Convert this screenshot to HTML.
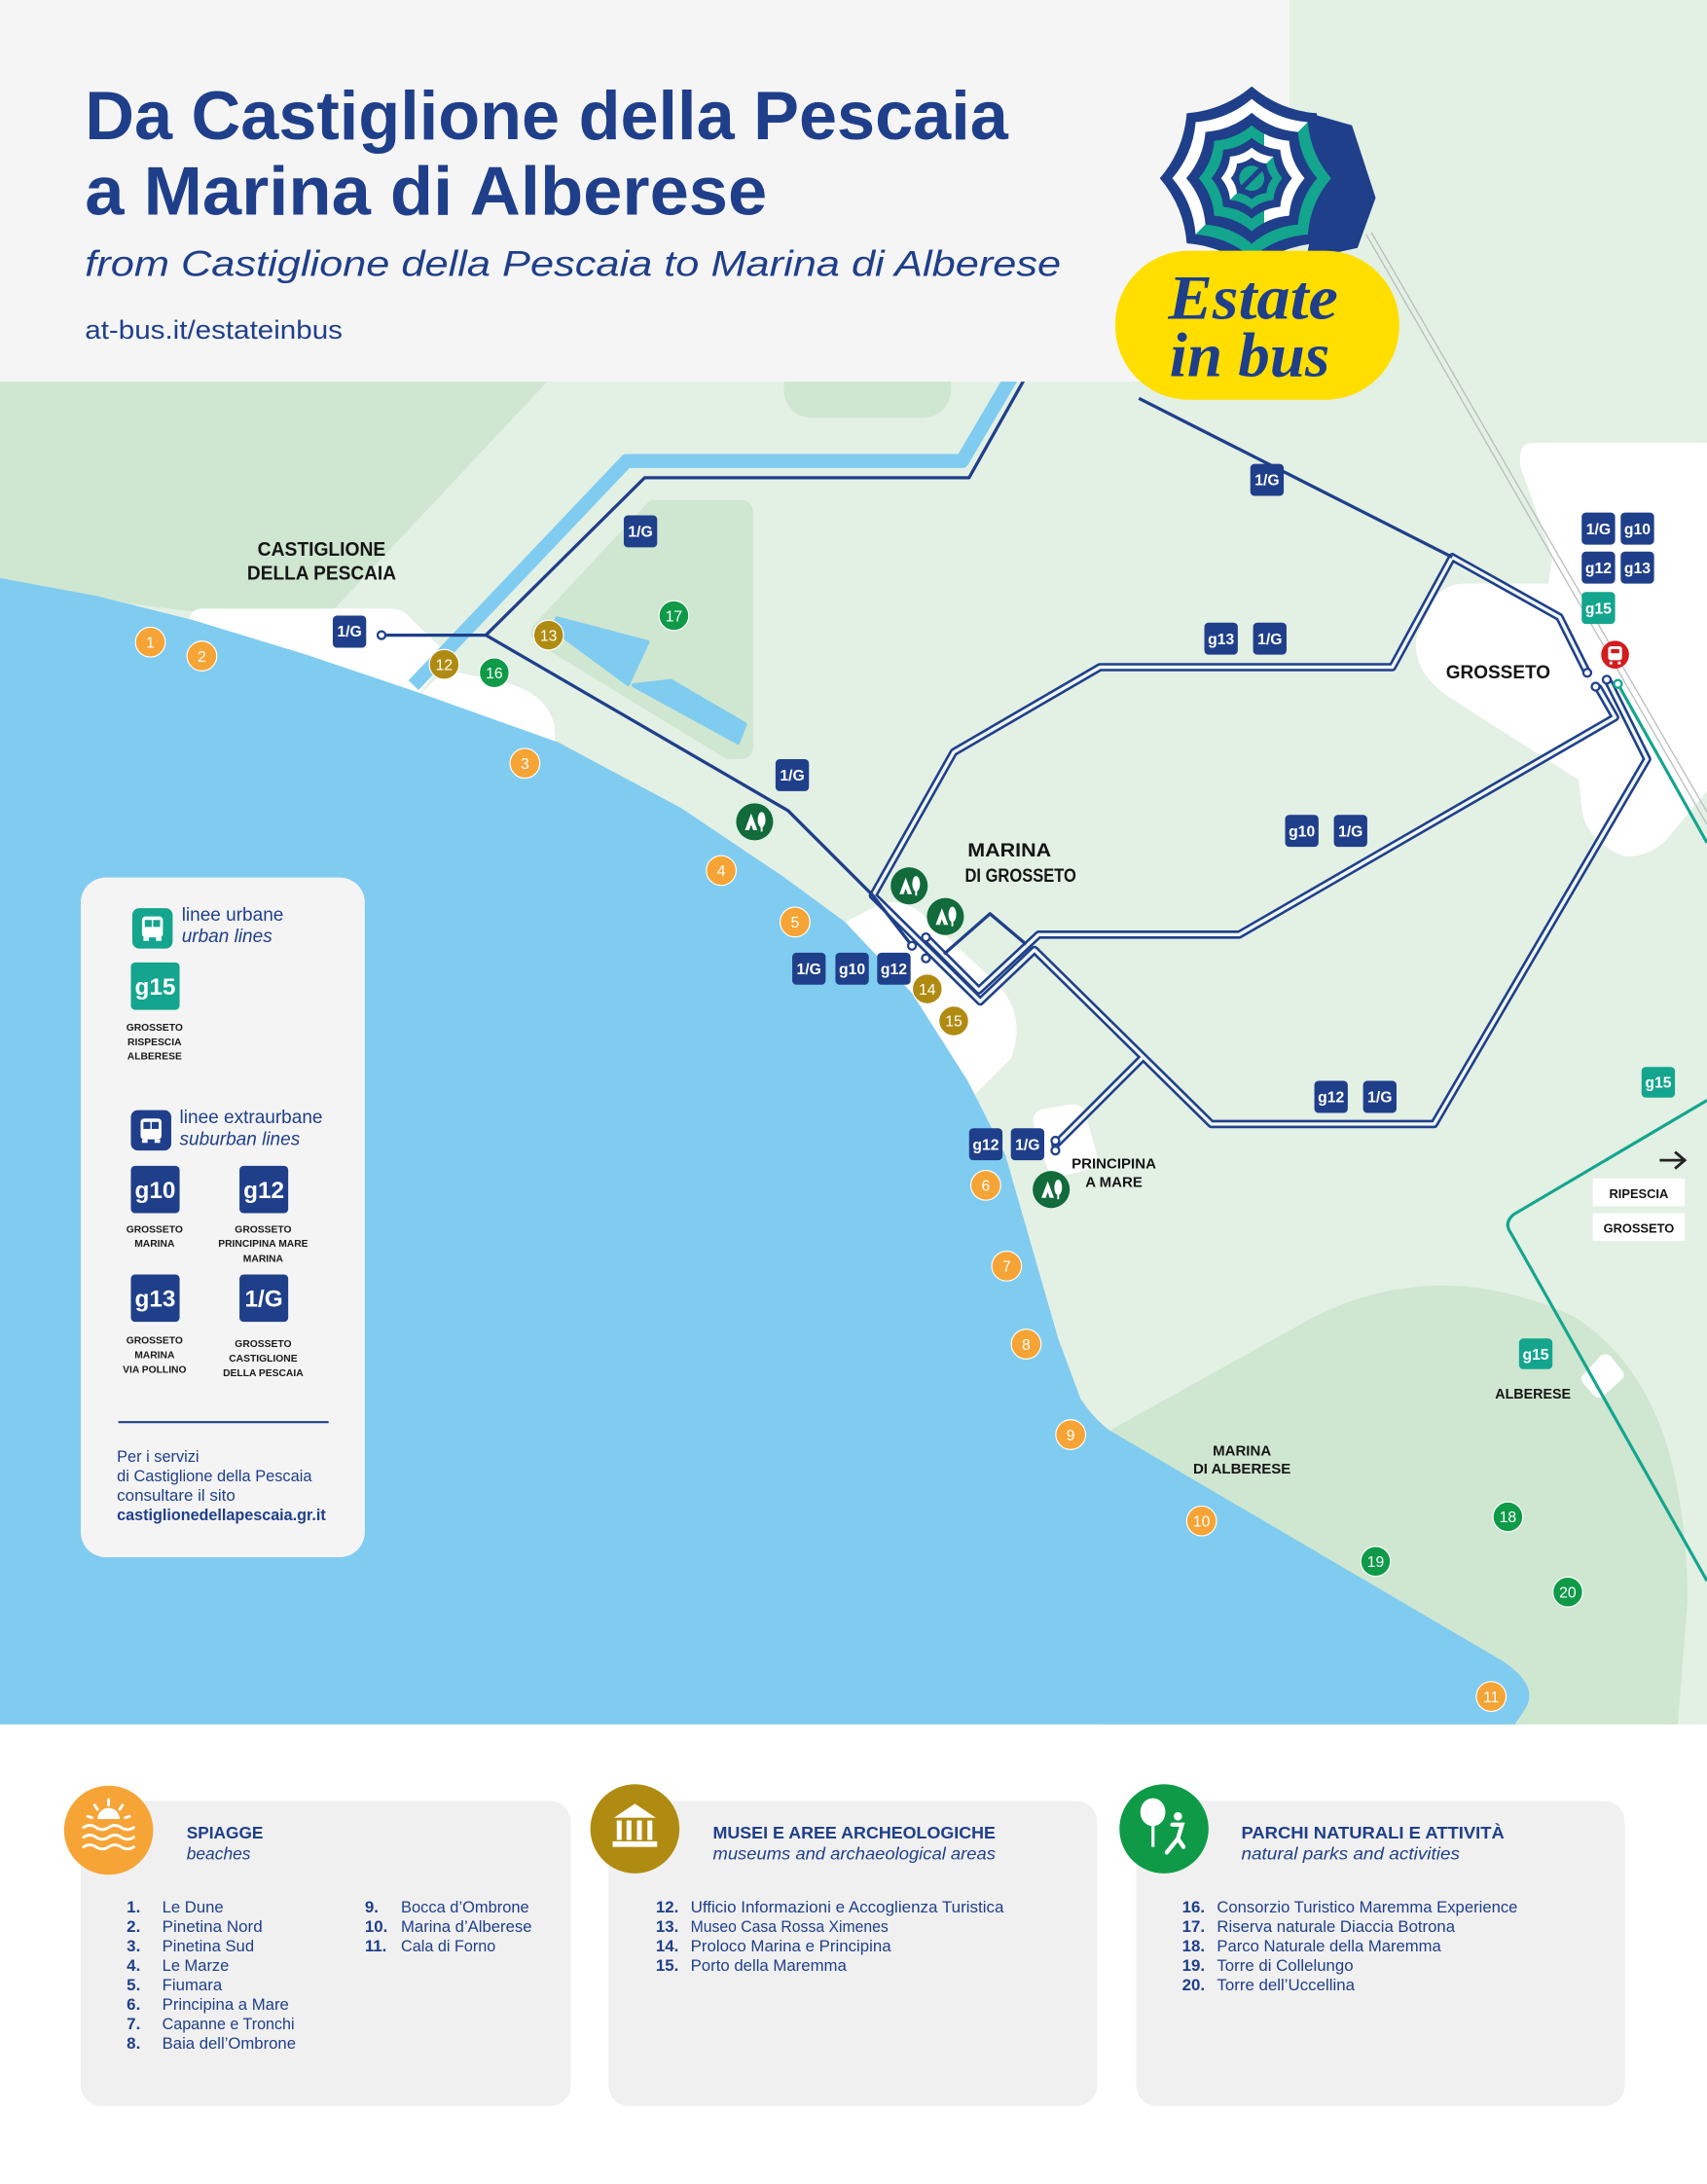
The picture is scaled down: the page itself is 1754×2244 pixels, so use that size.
<!DOCTYPE html>
<html><head><meta charset="utf-8">
<style>
html,body{margin:0;padding:0;background:#fff;}
svg{display:block;}
text{font-family:"Liberation Sans",Arial,sans-serif;}
.b{font-weight:bold;}
.lab{font-weight:bold;fill:#fff;font-size:11px;text-anchor:middle;}
.num{fill:#fff;font-size:11px;text-anchor:middle;}
.pl{font-weight:bold;fill:#151515;text-anchor:middle;}
.cap{font-weight:bold;fill:#1a1a1a;font-size:7.2px;text-anchor:middle;}
.li{fill:#1f3f8a;font-size:11.8px;}
.ln{fill:#1f3f8a;font-size:11.8px;font-weight:bold;}
.serif{font-family:"Liberation Serif","DejaVu Serif",serif;font-weight:bold;font-style:italic;}
</style></head><body>
<svg xmlns="http://www.w3.org/2000/svg" width="1754" height="2244" viewBox="0 0 1226 1568" preserveAspectRatio="none">
<defs>
<linearGradient id="gB" x1="0" y1="0" x2="1" y2="1"><stop offset="0.5" stop-color="#ffffff"/><stop offset="0.5" stop-color="#14a58e"/></linearGradient>
<linearGradient id="gD" x1="0" y1="0" x2="1" y2="0"><stop offset="0.62" stop-color="#14a58e"/><stop offset="0.62" stop-color="#ffffff"/></linearGradient>
</defs>
<rect width="1226" height="1568" fill="#fff"/>
<!-- MAP BACKGROUND -->
<rect x="0" y="0" width="1226" height="1238" fill="#e3f0e4"/>
<path d="M0,274 L393,274 L228,450 L0,422 Z" fill="#cfe6d1"/>
<rect x="563" y="250" width="120" height="50" rx="20" fill="#cfe6d1"/>
<path d="M467,359 L531,359 Q541,359 541,369 L541,535 Q541,545 531,545 L522,545 L386,462 Q378,456 384,448 Z" fill="#cfe6d1"/>
<path d="M790,1031 L941,947 Q1031,900 1130,945 Q1178,975 1198,1040 Q1212,1090 1212,1150 L1205,1238 L790,1238 Z" fill="#cfe6d1"/>
<!-- white town areas -->
<path d="M136,446 Q136,437 146,437 L280,437 Q290,437 296,445 L322,470 L300,500 L130,452 Z" fill="#fff"/>
<path d="M303,497 L316,485 Q321,481 330,483 L360,489 Q392,497 398,520 L400,548 L300,512 Z" fill="#fff"/>
<path d="M596,668 L628,651 Q646,643 662,656 L716,706 Q738,730 726,760 L700,786 L650,740 Z" fill="#fff"/>
<path d="M742,806 Q741,798 750,796 L768,793 Q776,792 779,798 L787,826 Q790,836 781,840 L764,844 Q754,845 752,838 Z" fill="#fff"/>
<path d="M1100,318 L1226,318 L1226,568 L1195,605 Q1175,620 1160,612 Q1138,600 1136,580 L1134,560 L1040,500 Q1012,480 1018,455 L1030,430 Q1038,419 1052,419 L1112,419 L1115,400 L1092,335 Q1090,318 1100,318 Z" fill="#fff"/>
<path d="M1150,973 Q1154,971 1157,974 L1165,984 Q1168,988 1164,991 L1152,1002 Q1148,1005 1145,1002 L1137,993 Q1134,989 1138,986 Z" fill="#fff"/>
<!-- SEA -->
<path d="M0,415 L70,428 L138,445 L220,470 L300,497 L401,533 L489,580 L562,629 L607,662 L655,713 L695,776 L722,829 L739,888 L760,961 L776,1004 Q785,1018 797,1027 L1080,1193 Q1105,1210 1096,1226 L1088,1238 L0,1238 Z" fill="#80ccf0"/>
<!-- canal & lakes -->
<path d="M297,492 L450,331 L691,331 L727,270" fill="none" stroke="#80ccf0" stroke-width="10" stroke-linejoin="round"/>
<path d="M400,444 L465,461 L451,491 L398,452 Z" fill="#80ccf0" stroke="#80ccf0" stroke-width="3" stroke-linejoin="round"/>
<path d="M455,492 L482,489 L535,520 L530,533 Z" fill="#80ccf0" stroke="#80ccf0" stroke-width="3" stroke-linejoin="round"/>
<!-- railway -->
<path d="M981,168 L1226,592" stroke="#b9bdbd" stroke-width="0.9" fill="none"/>
<path d="M985,167 L1226,583" stroke="#b9bdbd" stroke-width="0.9" fill="none"/>
<!-- teal lines -->
<g fill="none" stroke="#14a58e" stroke-width="2.2" stroke-linejoin="round">
<path d="M1162,491 L1226,605"/>
<path d="M1226,790 L1087,872 Q1080,878 1085,885 L1226,1135"/>
</g>
<!-- double lines -->
<g fill="none" stroke="#1f3f8a" stroke-width="6" stroke-linejoin="round" stroke-linecap="round">
<path d="M1043,400 L1120,443 L1140,483"/>
<path d="M1043,400 L1000,479 L790,479 L685,540 L627,643 L704,719"/>
<path d="M665,673 L703,711 L746,671 L890,671 L1160,515 L1148,494"/>
<path d="M704,719 L743,682 L870,807 L1030,807 L1183,545 L1155,489"/>
<path d="M820,760 L758,822"/>
</g>
<g fill="none" stroke="#eef6ef" stroke-width="2.4" stroke-linejoin="round" stroke-linecap="round">
<path d="M1043,400 L1120,443 L1140,483"/>
<path d="M1043,400 L1000,479 L790,479 L685,540 L627,643 L704,719"/>
<path d="M665,673 L703,711 L746,671 L890,671 L1160,515 L1148,494"/>
<path d="M704,719 L743,682 L870,807 L1030,807 L1183,545 L1155,489"/>
<path d="M820,760 L758,822"/>
</g>
<!-- single lines -->
<g fill="none" stroke="#1f3f8a" stroke-width="2.3" stroke-linejoin="round">
<path d="M274,456 L349,456 L463,343 L696,343 L737,270"/>
<path d="M349,456 L566,582 L627,643 L655,679"/>
<path d="M818,286 L1043,400"/>
<path d="M678,685 L711,656 L737,678"/>
</g>
<!-- stops -->
<g fill="#fff" stroke="#1f3f8a" stroke-width="1.6">
<circle cx="274" cy="456" r="2.8"/>
<circle cx="655" cy="679" r="2.8"/>
<circle cx="665" cy="673" r="2.8"/>
<circle cx="665" cy="688" r="2.8"/>
<circle cx="758" cy="819" r="2.8"/>
<circle cx="758" cy="826" r="2.8"/>
<circle cx="1140" cy="483" r="2.8"/>
<circle cx="1146" cy="493" r="2.8"/>
<circle cx="1154" cy="488" r="2.8"/>
</g>
<circle cx="1162" cy="491" r="2.8" fill="#fff" stroke="#14a58e" stroke-width="1.6"/>
<!-- train -->
<circle cx="1160" cy="470" r="10" fill="#d21d1f"/>
<rect x="1155" y="464" width="10" height="10" rx="2" fill="#fff"/>
<rect x="1157" y="466" width="6" height="3" fill="#d21d1f"/>
<rect x="1156" y="475" width="2" height="2" fill="#fff"/><rect x="1162" y="475" width="2" height="2" fill="#fff"/>

<!-- route labels -->
<g>
<rect x="239" y="442" width="24" height="23" rx="3" fill="#1f3f8a"/><text class="lab" x="251" y="457">1/G</text>
<rect x="448" y="370" width="24" height="23" rx="3" fill="#1f3f8a"/><text class="lab" x="460" y="385.5">1/G</text>
<rect x="557" y="545" width="24" height="23" rx="3" fill="#1f3f8a"/><text class="lab" x="569" y="560.5">1/G</text>
<rect x="898" y="333" width="24" height="23" rx="3" fill="#1f3f8a"/><text class="lab" x="910" y="348.5">1/G</text>
<rect x="865" y="447" width="24" height="23" rx="3" fill="#1f3f8a"/><text class="lab" x="877" y="462.5">g13</text>
<rect x="900" y="447" width="24" height="23" rx="3" fill="#1f3f8a"/><text class="lab" x="912" y="462.5">1/G</text>
<rect x="1136" y="368" width="24" height="23" rx="3" fill="#1f3f8a"/><text class="lab" x="1148" y="383.5">1/G</text>
<rect x="1164" y="368" width="24" height="23" rx="3" fill="#1f3f8a"/><text class="lab" x="1176" y="383.5">g10</text>
<rect x="1136" y="396" width="24" height="23" rx="3" fill="#1f3f8a"/><text class="lab" x="1148" y="411.5">g12</text>
<rect x="1164" y="396" width="24" height="23" rx="3" fill="#1f3f8a"/><text class="lab" x="1176" y="411.5">g13</text>
<rect x="1136" y="425" width="24" height="23" rx="3" fill="#14a58e"/><text class="lab" x="1148" y="440.5">g15</text>
<rect x="923" y="585" width="24" height="23" rx="3" fill="#1f3f8a"/><text class="lab" x="935" y="600.5">g10</text>
<rect x="958" y="585" width="24" height="23" rx="3" fill="#1f3f8a"/><text class="lab" x="970" y="600.5">1/G</text>
<rect x="569" y="684" width="24" height="23" rx="3" fill="#1f3f8a"/><text class="lab" x="581" y="699.5">1/G</text>
<rect x="600" y="684" width="24" height="23" rx="3" fill="#1f3f8a"/><text class="lab" x="612" y="699.5">g10</text>
<rect x="630" y="684" width="24" height="23" rx="3" fill="#1f3f8a"/><text class="lab" x="642" y="699.5">g12</text>
<rect x="944" y="776" width="24" height="23" rx="3" fill="#1f3f8a"/><text class="lab" x="956" y="791.5">g12</text>
<rect x="979" y="776" width="24" height="23" rx="3" fill="#1f3f8a"/><text class="lab" x="991" y="791.5">1/G</text>
<rect x="696" y="810" width="24" height="23" rx="3" fill="#1f3f8a"/><text class="lab" x="708" y="825.5">g12</text>
<rect x="726" y="810" width="24" height="23" rx="3" fill="#1f3f8a"/><text class="lab" x="738" y="825.5">1/G</text>
<rect x="1179" y="766" width="24" height="22" rx="3" fill="#14a58e"/><text class="lab" x="1191" y="781">g15</text>
<rect x="1091" y="961" width="24" height="22" rx="3" fill="#14a58e"/><text class="lab" x="1103" y="976">g15</text>
</g>

<!-- POI circles -->
<g stroke="#fff" stroke-width="0.8">
<circle cx="108" cy="461" r="10.7" fill="#f6a436"/>
<circle cx="145" cy="471" r="10.7" fill="#f6a436"/>
<circle cx="377" cy="548" r="10.7" fill="#f6a436"/>
<circle cx="518" cy="625" r="10.7" fill="#f6a436"/>
<circle cx="571" cy="662" r="10.7" fill="#f6a436"/>
<circle cx="708" cy="851" r="10.7" fill="#f6a436"/>
<circle cx="723" cy="909" r="10.7" fill="#f6a436"/>
<circle cx="737" cy="965" r="10.7" fill="#f6a436"/>
<circle cx="769" cy="1030" r="10.7" fill="#f6a436"/>
<circle cx="863" cy="1092" r="10.7" fill="#f6a436"/>
<circle cx="1071" cy="1218" r="10.7" fill="#f6a436"/>
<circle cx="319" cy="477" r="10.7" fill="#b08b12"/>
<circle cx="394" cy="456" r="10.7" fill="#b08b12"/>
<circle cx="666" cy="710" r="10.7" fill="#b08b12"/>
<circle cx="685" cy="733" r="10.7" fill="#b08b12"/>
<circle cx="355" cy="483" r="10.7" fill="#0f9a48"/>
<circle cx="484" cy="442" r="10.7" fill="#0f9a48"/>
<circle cx="1083" cy="1089" r="10.7" fill="#0f9a48"/>
<circle cx="988" cy="1121" r="10.7" fill="#0f9a48"/>
<circle cx="1126" cy="1143" r="10.7" fill="#0f9a48"/>
</g>
<g>
<text class="num" x="108" y="465">1</text>
<text class="num" x="145" y="475">2</text>
<text class="num" x="377" y="552">3</text>
<text class="num" x="518" y="629">4</text>
<text class="num" x="571" y="666">5</text>
<text class="num" x="708" y="855">6</text>
<text class="num" x="723" y="913">7</text>
<text class="num" x="737" y="969">8</text>
<text class="num" x="769" y="1034">9</text>
<text class="num" x="863" y="1096">10</text>
<text class="num" x="1071" y="1222">11</text>
<text class="num" x="319" y="481">12</text>
<text class="num" x="394" y="460">13</text>
<text class="num" x="666" y="714">14</text>
<text class="num" x="685" y="737">15</text>
<text class="num" x="355" y="487">16</text>
<text class="num" x="484" y="446">17</text>
<text class="num" x="1083" y="1093">18</text>
<text class="num" x="988" y="1125">19</text>
<text class="num" x="1126" y="1147">20</text>
</g>
<!-- camping icons -->
<g>
<g transform="translate(542,590)"><circle r="13.3" fill="#116b3b"/><path d="M-7,6 L-2.5,-6 L2,6 Z" fill="#fff"/><path d="M-4,6 L-2.5,2 L-1,6 Z" fill="#116b3b"/><ellipse cx="5" cy="-1.5" rx="2.8" ry="5.5" fill="#fff"/><rect x="4.3" y="3" width="1.4" height="4" fill="#fff"/></g>
<g transform="translate(653,636)"><circle r="13.3" fill="#116b3b"/><path d="M-7,6 L-2.5,-6 L2,6 Z" fill="#fff"/><path d="M-4,6 L-2.5,2 L-1,6 Z" fill="#116b3b"/><ellipse cx="5" cy="-1.5" rx="2.8" ry="5.5" fill="#fff"/><rect x="4.3" y="3" width="1.4" height="4" fill="#fff"/></g>
<g transform="translate(679,658)"><circle r="13.3" fill="#116b3b"/><path d="M-7,6 L-2.5,-6 L2,6 Z" fill="#fff"/><path d="M-4,6 L-2.5,2 L-1,6 Z" fill="#116b3b"/><ellipse cx="5" cy="-1.5" rx="2.8" ry="5.5" fill="#fff"/><rect x="4.3" y="3" width="1.4" height="4" fill="#fff"/></g>
<g transform="translate(755,854)"><circle r="13.3" fill="#116b3b"/><path d="M-7,6 L-2.5,-6 L2,6 Z" fill="#fff"/><path d="M-4,6 L-2.5,2 L-1,6 Z" fill="#116b3b"/><ellipse cx="5" cy="-1.5" rx="2.8" ry="5.5" fill="#fff"/><rect x="4.3" y="3" width="1.4" height="4" fill="#fff"/></g>
</g>
<!-- place names -->
<text class="pl" x="231" y="399" font-size="14.5" textLength="92" lengthAdjust="spacingAndGlyphs">CASTIGLIONE</text>
<text class="pl" x="231" y="416" font-size="14.5" textLength="107" lengthAdjust="spacingAndGlyphs">DELLA PESCAIA</text>
<text class="pl" x="725" y="615" font-size="13.5" textLength="60" lengthAdjust="spacingAndGlyphs">MARINA</text>
<text class="pl" x="733" y="633" font-size="13.5" textLength="80" lengthAdjust="spacingAndGlyphs">DI GROSSETO</text>
<text class="pl" x="1076" y="487" font-size="13.5" textLength="75" lengthAdjust="spacingAndGlyphs">GROSSETO</text>
<text class="pl" x="800" y="839" font-size="10.5">PRINCIPINA</text>
<text class="pl" x="800" y="852" font-size="10.5">A MARE</text>
<text class="pl" x="892" y="1045" font-size="10.5">MARINA</text>
<text class="pl" x="892" y="1058" font-size="10.5">DI ALBERESE</text>
<text class="pl" x="1101" y="1004" font-size="10">ALBERESE</text>
<path d="M1192,833 L1210,833 M1203,827 L1210,833 L1203,839" stroke="#222" stroke-width="2" fill="none"/>
<rect x="1144" y="846" width="66" height="20" fill="#fff"/>
<text class="pl" x="1177" y="860" font-size="9">RIPESCIA</text>
<rect x="1144" y="871" width="66" height="20" fill="#fff"/>
<text class="pl" x="1177" y="885" font-size="9">GROSSETO</text>

<!-- LEGEND BOX -->
<rect x="58" y="630" width="204" height="488" rx="18" fill="#f4f4f4"/>
<g>
<rect x="95" y="652" width="29" height="29" rx="5" fill="#14a58e"/>
<rect x="102" y="658" width="15" height="15" rx="2.5" fill="#fff"/>
<rect x="104" y="660.5" width="5" height="5" fill="#14a58e"/><rect x="110" y="660.5" width="5" height="5" fill="#14a58e"/>
<rect x="103" y="673" width="4" height="2.5" fill="#fff"/><rect x="112" y="673" width="4" height="2.5" fill="#fff"/>
</g>
<text x="130.5" y="661" font-size="13.3" fill="#1f3f8a">linee urbane</text>
<text x="130.5" y="676.5" font-size="13.3" fill="#1f3f8a" font-style="italic">urban lines</text>
<rect x="94" y="691" width="35" height="34" rx="3" fill="#14a58e"/>
<text class="b" x="111.5" y="714" font-size="17" fill="#fff" text-anchor="middle">g15</text>
<text class="cap" x="111" y="740">GROSSETO</text>
<text class="cap" x="111" y="750.5">RISPESCIA</text>
<text class="cap" x="111" y="760.5">ALBERESE</text>
<g>
<rect x="94" y="797" width="29" height="29" rx="5" fill="#1f3f8a"/>
<rect x="101" y="803" width="15" height="15" rx="2.5" fill="#fff"/>
<rect x="103" y="805.5" width="5" height="5" fill="#1f3f8a"/><rect x="109" y="805.5" width="5" height="5" fill="#1f3f8a"/>
<rect x="102" y="818" width="4" height="2.5" fill="#fff"/><rect x="111" y="818" width="4" height="2.5" fill="#fff"/>
</g>
<text x="129" y="806.5" font-size="13.3" fill="#1f3f8a">linee extraurbane</text>
<text x="129" y="822" font-size="13.3" fill="#1f3f8a" font-style="italic">suburban lines</text>
<rect x="94" y="837" width="35" height="34" rx="3" fill="#1f3f8a"/>
<text class="b" x="111.5" y="860" font-size="17" fill="#fff" text-anchor="middle">g10</text>
<rect x="172" y="837" width="35" height="34" rx="3" fill="#1f3f8a"/>
<text class="b" x="189.5" y="860" font-size="17" fill="#fff" text-anchor="middle">g12</text>
<text class="cap" x="111" y="885">GROSSETO</text>
<text class="cap" x="111" y="895">MARINA</text>
<text class="cap" x="189" y="885">GROSSETO</text>
<text class="cap" x="189" y="895">PRINCIPINA MARE</text>
<text class="cap" x="189" y="906">MARINA</text>
<rect x="94" y="915" width="35" height="34" rx="3" fill="#1f3f8a"/>
<text class="b" x="111.5" y="938" font-size="17" fill="#fff" text-anchor="middle">g13</text>
<rect x="172" y="915" width="35" height="34" rx="3" fill="#1f3f8a"/>
<text class="b" x="189.5" y="938" font-size="17" fill="#fff" text-anchor="middle">1/G</text>
<text class="cap" x="111" y="964.5">GROSSETO</text>
<text class="cap" x="111" y="975">MARINA</text>
<text class="cap" x="111" y="985.5">VIA POLLINO</text>
<text class="cap" x="189" y="967">GROSSETO</text>
<text class="cap" x="189" y="977.5">CASTIGLIONE</text>
<text class="cap" x="189" y="988">DELLA PESCAIA</text>
<line x1="85" y1="1021" x2="236" y2="1021" stroke="#1f3f8a" stroke-width="1.5"/>
<text x="84" y="1049.5" font-size="11.5" fill="#1f3f8a" textLength="59" lengthAdjust="spacingAndGlyphs">Per i servizi</text>
<text x="84" y="1063.5" font-size="11.5" fill="#1f3f8a" textLength="140" lengthAdjust="spacingAndGlyphs">di Castiglione della Pescaia</text>
<text x="84" y="1077.5" font-size="11.5" fill="#1f3f8a" textLength="85" lengthAdjust="spacingAndGlyphs">consultare il sito</text>
<text class="b" x="84" y="1091.5" font-size="11.5" fill="#1f3f8a" textLength="150" lengthAdjust="spacingAndGlyphs">castiglionedellapescaia.gr.it</text>

<!-- HEADER -->
<rect x="0" y="0" width="926" height="274" fill="#f5f5f5"/>
<text class="b" x="61" y="100" font-size="49" fill="#1f3f8a" textLength="663" lengthAdjust="spacingAndGlyphs">Da Castiglione della Pescaia</text>
<text class="b" x="61" y="154" font-size="49" fill="#1f3f8a" textLength="490" lengthAdjust="spacingAndGlyphs">a Marina di Alberese</text>
<text x="61" y="198" font-size="26" fill="#1f3f8a" font-style="italic" textLength="701" lengthAdjust="spacingAndGlyphs">from Castiglione della Pescaia to Marina di Alberese</text>
<text x="61" y="243" font-size="19" fill="#1f3f8a" textLength="185" lengthAdjust="spacingAndGlyphs">at-bus.it/estateinbus</text>

<!-- LOGO -->
<g>
<path d="M936,80 L971,90 L988,142 L975,178 L938,186 L950,128 Z" fill="#1f3f8a"/>
<path transform="translate(899,128) scale(66,66)" fill="#1f3f8a" d="M1,0 Q0.739,0.306 0.707,0.707 Q0.306,0.739 0,1 Q-0.306,0.739 -0.707,0.707 Q-0.739,0.306 -1,0 Q-0.739,-0.306 -0.707,-0.707 Q-0.306,-0.739 0,-1 Q0.306,-0.739 0.707,-0.707 Q0.739,-0.306 1,0 Z"/>
<path transform="translate(899,128) scale(57,57)" fill="url(#gB)" d="M1,0 Q0.739,0.306 0.707,0.707 Q0.306,0.739 0,1 Q-0.306,0.739 -0.707,0.707 Q-0.739,0.306 -1,0 Q-0.739,-0.306 -0.707,-0.707 Q-0.306,-0.739 0,-1 Q0.306,-0.739 0.707,-0.707 Q0.739,-0.306 1,0 Z"/>
<path transform="translate(899,128) scale(47,47)" fill="#1f3f8a" d="M1,0 Q0.739,0.306 0.707,0.707 Q0.306,0.739 0,1 Q-0.306,0.739 -0.707,0.707 Q-0.739,0.306 -1,0 Q-0.739,-0.306 -0.707,-0.707 Q-0.306,-0.739 0,-1 Q0.306,-0.739 0.707,-0.707 Q0.739,-0.306 1,0 Z"/>
<path transform="translate(899,128) scale(38,38)" fill="url(#gD)" d="M1,0 Q0.739,0.306 0.707,0.707 Q0.306,0.739 0,1 Q-0.306,0.739 -0.707,0.707 Q-0.739,0.306 -1,0 Q-0.739,-0.306 -0.707,-0.707 Q-0.306,-0.739 0,-1 Q0.306,-0.739 0.707,-0.707 Q0.739,-0.306 1,0 Z"/>
<path transform="translate(899,128) scale(29,29)" fill="#1f3f8a" d="M1,0 Q0.739,0.306 0.707,0.707 Q0.306,0.739 0,1 Q-0.306,0.739 -0.707,0.707 Q-0.739,0.306 -1,0 Q-0.739,-0.306 -0.707,-0.707 Q-0.306,-0.739 0,-1 Q0.306,-0.739 0.707,-0.707 Q0.739,-0.306 1,0 Z"/>
<path transform="translate(899,128) scale(22,22)" fill="url(#gB)" d="M1,0 Q0.739,0.306 0.707,0.707 Q0.306,0.739 0,1 Q-0.306,0.739 -0.707,0.707 Q-0.739,0.306 -1,0 Q-0.739,-0.306 -0.707,-0.707 Q-0.306,-0.739 0,-1 Q0.306,-0.739 0.707,-0.707 Q0.739,-0.306 1,0 Z"/>
<path transform="translate(899,128) scale(15,15)" fill="#1f3f8a" d="M1,0 Q0.739,0.306 0.707,0.707 Q0.306,0.739 0,1 Q-0.306,0.739 -0.707,0.707 Q-0.739,0.306 -1,0 Q-0.739,-0.306 -0.707,-0.707 Q-0.306,-0.739 0,-1 Q0.306,-0.739 0.707,-0.707 Q0.739,-0.306 1,0 Z"/>
<circle cx="899" cy="128" r="9" fill="#14a58e"/>
<path d="M891,136 L907,120" stroke="#1f3f8a" stroke-width="3.5"/>
<rect x="801" y="180" width="204" height="107" rx="53" fill="#ffde00"/>
<text class="serif" x="839" y="229" font-size="45" fill="#1f3f8a" textLength="122" lengthAdjust="spacingAndGlyphs">Estate</text>
<text class="serif" x="840" y="270" font-size="45" fill="#1f3f8a" textLength="115" lengthAdjust="spacingAndGlyphs">in bus</text>
</g>

<!-- BOTTOM CARDS -->
<rect x="58" y="1293" width="352" height="219" rx="15" fill="#f0f0f0"/>
<rect x="437" y="1293" width="351" height="219" rx="15" fill="#f0f0f0"/>
<rect x="816" y="1293" width="351" height="219" rx="15" fill="#f0f0f0"/>
<!-- icon 1 -->
<circle cx="78" cy="1314" r="32" fill="#f6a436"/>
<path d="M70,1306 A8,8 0 0 1 86,1306 Z" fill="#fff"/>
<g stroke="#fff" stroke-width="2" stroke-linecap="round" fill="none">
<path d="M78,1292 L78,1296 M68,1296 L70,1299 M88,1296 L86,1299 M63,1304 L66,1305 M93,1304 L90,1305"/>
<path d="M60,1312 q4.5,-3 9,0 t9,0 t9,0 t9,0"/>
<path d="M60,1319 q4.5,-3 9,0 t9,0 t9,0 t9,0"/>
<path d="M60,1326 q4.5,-3 9,0 t9,0 t9,0 t9,0"/>
</g>
<!-- icon 2 -->
<circle cx="456" cy="1313" r="32" fill="#b08b12"/>
<path d="M441,1305 L456,1295 L471,1305 Z" fill="#fff"/>
<rect x="443" y="1307" width="3.5" height="14" fill="#fff"/>
<rect x="450" y="1307" width="3.5" height="14" fill="#fff"/>
<rect x="457.5" y="1307" width="3.5" height="14" fill="#fff"/>
<rect x="465" y="1307" width="3.5" height="14" fill="#fff"/>
<rect x="440" y="1322" width="32" height="4" fill="#fff"/>
<!-- icon 3 -->
<circle cx="836" cy="1313" r="32" fill="#0f9a48"/>
<ellipse cx="828" cy="1301" rx="9" ry="10" fill="#fff"/>
<rect x="827" y="1308" width="2.2" height="18" fill="#fff"/>
<circle cx="846" cy="1304" r="3" fill="#fff"/>
<path d="M842,1310 L849,1310 L846,1320 L838,1330 M846,1320 L850,1326" stroke="#fff" stroke-width="3" fill="none" stroke-linecap="round"/>

<!-- card titles -->
<text class="b" x="134" y="1320" font-size="12.5" fill="#1f3f8a" textLength="55" lengthAdjust="spacingAndGlyphs">SPIAGGE</text>
<text x="134" y="1335" font-size="12.5" fill="#1f3f8a" font-style="italic" textLength="46" lengthAdjust="spacingAndGlyphs">beaches</text>
<text class="b" x="512" y="1320" font-size="12.5" fill="#1f3f8a" textLength="203" lengthAdjust="spacingAndGlyphs">MUSEI E AREE ARCHEOLOGICHE</text>
<text x="512" y="1335" font-size="12.5" fill="#1f3f8a" font-style="italic" textLength="203" lengthAdjust="spacingAndGlyphs">museums and archaeological areas</text>
<text class="b" x="891.5" y="1320" font-size="12.5" fill="#1f3f8a" textLength="189" lengthAdjust="spacingAndGlyphs">PARCHI NATURALI E ATTIVITÀ</text>
<text x="891.5" y="1335" font-size="12.5" fill="#1f3f8a" font-style="italic" textLength="157" lengthAdjust="spacingAndGlyphs">natural parks and activities</text>

<!-- card 1 list -->
<text class="ln" x="91" y="1373">1.</text><text class="li" x="116.5" y="1373" textLength="44" lengthAdjust="spacingAndGlyphs">Le Dune</text>
<text class="ln" x="91" y="1387">2.</text><text class="li" x="116.5" y="1387" textLength="72" lengthAdjust="spacingAndGlyphs">Pinetina Nord</text>
<text class="ln" x="91" y="1401">3.</text><text class="li" x="116.5" y="1401" textLength="66" lengthAdjust="spacingAndGlyphs">Pinetina Sud</text>
<text class="ln" x="91" y="1415">4.</text><text class="li" x="116.5" y="1415" textLength="48" lengthAdjust="spacingAndGlyphs">Le Marze</text>
<text class="ln" x="91" y="1429">5.</text><text class="li" x="116.5" y="1429" textLength="43" lengthAdjust="spacingAndGlyphs">Fiumara</text>
<text class="ln" x="91" y="1443">6.</text><text class="li" x="116.5" y="1443" textLength="91" lengthAdjust="spacingAndGlyphs">Principina a Mare</text>
<text class="ln" x="91" y="1457">7.</text><text class="li" x="116.5" y="1457" textLength="95" lengthAdjust="spacingAndGlyphs">Capanne e Tronchi</text>
<text class="ln" x="91" y="1471">8.</text><text class="li" x="116.5" y="1471" textLength="96" lengthAdjust="spacingAndGlyphs">Baia dell’Ombrone</text>
<text class="ln" x="262" y="1373">9.</text><text class="li" x="288" y="1373" textLength="92" lengthAdjust="spacingAndGlyphs">Bocca d’Ombrone</text>
<text class="ln" x="262" y="1387">10.</text><text class="li" x="288" y="1387" textLength="94" lengthAdjust="spacingAndGlyphs">Marina d’Alberese</text>
<text class="ln" x="262" y="1401">11.</text><text class="li" x="288" y="1401" textLength="68" lengthAdjust="spacingAndGlyphs">Cala di Forno</text>
<!-- card 2 list -->
<text class="ln" x="471" y="1373">12.</text><text class="li" x="496" y="1373" textLength="225" lengthAdjust="spacingAndGlyphs">Ufficio Informazioni e Accoglienza Turistica</text>
<text class="ln" x="471" y="1387">13.</text><text class="li" x="496" y="1387" textLength="142" lengthAdjust="spacingAndGlyphs">Museo Casa Rossa Ximenes</text>
<text class="ln" x="471" y="1401">14.</text><text class="li" x="496" y="1401" textLength="144" lengthAdjust="spacingAndGlyphs">Proloco Marina e Principina</text>
<text class="ln" x="471" y="1415">15.</text><text class="li" x="496" y="1415" textLength="112" lengthAdjust="spacingAndGlyphs">Porto della Maremma</text>
<!-- card 3 list -->
<text class="ln" x="849" y="1373">16.</text><text class="li" x="874" y="1373" textLength="216" lengthAdjust="spacingAndGlyphs">Consorzio Turistico Maremma Experience</text>
<text class="ln" x="849" y="1387">17.</text><text class="li" x="874" y="1387" textLength="171" lengthAdjust="spacingAndGlyphs">Riserva naturale Diaccia Botrona</text>
<text class="ln" x="849" y="1401">18.</text><text class="li" x="874" y="1401" textLength="161" lengthAdjust="spacingAndGlyphs">Parco Naturale della Maremma</text>
<text class="ln" x="849" y="1415">19.</text><text class="li" x="874" y="1415" textLength="98" lengthAdjust="spacingAndGlyphs">Torre di Collelungo</text>
<text class="ln" x="849" y="1429">20.</text><text class="li" x="874" y="1429" textLength="99" lengthAdjust="spacingAndGlyphs">Torre dell’Uccellina</text>
</svg>
</body></html>
